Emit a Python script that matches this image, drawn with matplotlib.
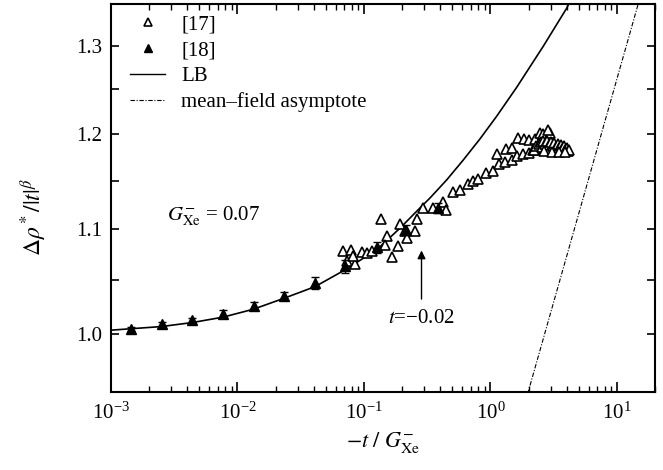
import numpy as np
import matplotlib
matplotlib.use("Agg")
import matplotlib.pyplot as plt
from matplotlib.lines import Line2D
from matplotlib.ticker import FixedLocator, FormatStrFormatter, LogLocator, NullFormatter

plt.rcParams['font.family'] = ['Liberation Serif', 'DejaVu Serif']
plt.rcParams['mathtext.fontset'] = 'stix'

# ---------------------------------------------------------------------------
# data
# ---------------------------------------------------------------------------

# [17]  open triangles
ref17_x = [0.0685, 0.0788, 0.0959, 0.105, 0.115, 0.0729, 0.0849, 0.0822, 0.136, 0.151,
           0.193, 0.147, 0.187, 0.166, 0.211, 0.253, 0.261, 0.218, 0.294, 0.353,
           0.424, 0.445, 0.508, 0.574, 0.668, 0.732, 0.802, 0.921, 1.052, 1.12,
           1.174, 1.30, 1.33, 1.47, 1.47, 1.63, 1.66, 1.84, 2.03, 2.25,
           2.46, 2.61, 2.95, 2.86, 1.80, 2.03, 2.18, 2.39,
           2.20, 2.30, 2.40, 2.50, 2.55, 2.60, 2.70, 2.75, 2.80, 2.90,
           2.95, 3.00, 3.10, 3.15, 3.20, 3.30, 3.35, 3.40, 3.50, 3.55,
           3.60, 3.70, 3.75, 3.80, 3.90, 4.00, 4.10, 4.20, 2.65, 3.05,
           3.45, 3.85]
ref17_y = [1.0788, 1.0797, 1.0771, 1.0765, 1.0781, 1.0683, 1.0661, 1.0732, 1.1104, 1.0937,
           1.1057, 1.0847, 1.0837, 1.0722, 1.0980, 1.0980, 1.1104, 1.0914, 1.1217, 1.1217,
           1.1275, 1.1199, 1.1379, 1.1400, 1.1466, 1.1500, 1.1518, 1.1580, 1.1605, 1.1779,
           1.1677, 1.1699, 1.1834, 1.1851, 1.1723, 1.1759, 1.1959, 1.1948, 1.1939, 1.1948,
           1.2013, 1.1995, 1.2013, 1.2040, 1.1786, 1.1797, 1.1825, 1.1851,
           1.183, 1.187, 1.189, 1.191, 1.186, 1.192, 1.189, 1.185, 1.192, 1.188,
           1.184, 1.191, 1.187, 1.183, 1.190, 1.186, 1.182, 1.189, 1.185, 1.182,
           1.188, 1.184, 1.181, 1.187, 1.183, 1.185, 1.182, 1.183, 1.182, 1.180,
           1.180, 1.180]

# [18]  filled triangles with error bars
ref18_x = [1.43e-3, 2.52e-3, 4.40e-3, 7.67e-3, 1.34e-2, 2.33e-2, 4.10e-2, 0.0708, 0.126, 0.215, 0.386]
ref18_y = [1.0046, 1.0089, 1.0129, 1.0182, 1.0259, 1.0356, 1.0474, 1.0634, 1.0824, 1.0997, 1.1217]
ref18_err = [0.002, 0.002, 0.002, 0.0035, 0.0037, 0.0037, 0.0055, 0.006, 0.0055, 0.005, 0.005]

# LB curve
lb_x = [1e-3, 2.5e-3, 4.4e-3, 7.7e-3, 1.34e-2, 2.33e-2, 4.1e-2, 7.1e-2, 0.126, 0.193,
        0.277, 0.333, 0.451, 0.61, 0.826, 1.119, 1.611, 2.614, 4.0, 4.6]
lb_y = [1.0034, 1.0067, 1.0104, 1.0154, 1.0228, 1.0330, 1.0440, 1.0602, 1.0797, 1.1013,
        1.1217, 1.1320, 1.1508, 1.1719, 1.1946, 1.2195, 1.2521, 1.2999, 1.3457, 1.365]

# mean-field asymptote (straight line in log-log)
mf_x = [1.8, 18.0]
mf_y = [0.932, 1.40]

# ---------------------------------------------------------------------------
# plot
# ---------------------------------------------------------------------------
fig = plt.figure(figsize=(6.63, 4.70), dpi=100)
ax = fig.add_axes([0.1674, 0.166, 0.8206, 0.8255])

ax.plot(ref17_x, ref17_y, linestyle='none', marker='^', ms=7, mfc='white',
        mec='black', mew=1.2, zorder=3)
ax.errorbar(ref18_x, ref18_y, yerr=ref18_err, fmt='^', ms=7, color='black',
            ecolor='black', elinewidth=1.0, capsize=3, capthick=1.0, zorder=4)
ax.plot(lb_x, lb_y, color='black', lw=1.2, zorder=2)
ax.plot(mf_x, mf_y, color='black', lw=0.8, linestyle=(0, (4, 1.5, 1, 1.5)), zorder=2)

ax.set_xscale('log')
ax.set_yscale('log')
ax.set_xlim(1e-3, 20)
ax.set_ylim(0.9484, 1.351)

ax.yaxis.set_major_locator(FixedLocator([1.0, 1.1, 1.2, 1.3]))
ax.yaxis.set_minor_locator(FixedLocator([1.05, 1.15, 1.25]))
ax.yaxis.set_major_formatter(FormatStrFormatter('%.1f'))
ax.yaxis.set_minor_formatter(NullFormatter())
ax.xaxis.set_major_locator(LogLocator(base=10, numticks=10))
ax.xaxis.set_minor_locator(LogLocator(base=10, subs=np.arange(2, 10), numticks=10))
ax.xaxis.set_minor_formatter(NullFormatter())

ax.tick_params(which='both', direction='in', top=True, right=True, labelsize=15)
ax.tick_params(axis='x', which='major', length=7, width=1.2, pad=8)
ax.tick_params(axis='x', which='minor', length=4, width=1.0)
ax.tick_params(axis='y', which='both', length=6, width=1.2, pad=6)
for s in ax.spines.values():
    s.set_linewidth(1.5)

ax.set_xlabel(r'$-t\ /\ G^{-}_{\rm Xe}$', fontsize=16, labelpad=4)
ax.set_ylabel(r'$\Delta\rho^*/|t|^{\beta}$', fontsize=17)
ax.yaxis.set_label_coords(-0.115, 0.45)

ax.text(2.77e-3, 1.113, r'$G^{-}_{\rm Xe}$ = 0.07', fontsize=15, va='center', ha='left')
ax.annotate('', xy=(0.285, 1.0818), xytext=(0.285, 1.0297),
            arrowprops=dict(arrowstyle='-|>', color='black', lw=1.0, mutation_scale=12))
ax.text(0.285, 1.0138, '$t$=\u22120.02', fontsize=15, va='center', ha='center')

handles = [
    Line2D([], [], linestyle='none', marker='^', ms=6, mfc='white', mec='black', mew=1.2),
    Line2D([], [], linestyle='none', marker='^', ms=6, color='black'),
    Line2D([], [], color='black', lw=1.0),
    Line2D([], [], color='black', lw=0.8, linestyle=(0, (4, 1.5, 1, 1.5))),
]
labels = ['[17]', '[18]', 'LB', 'mean\u2013field asymptote']
ax.legend(handles, labels, loc='upper left', bbox_to_anchor=(0.035, 0.972),
          frameon=False, fontsize=15, handlelength=1.7, handletextpad=0.75,
          labelspacing=0.3, borderaxespad=0.0, borderpad=0.0)

fig.savefig('out.png', dpi=100)
